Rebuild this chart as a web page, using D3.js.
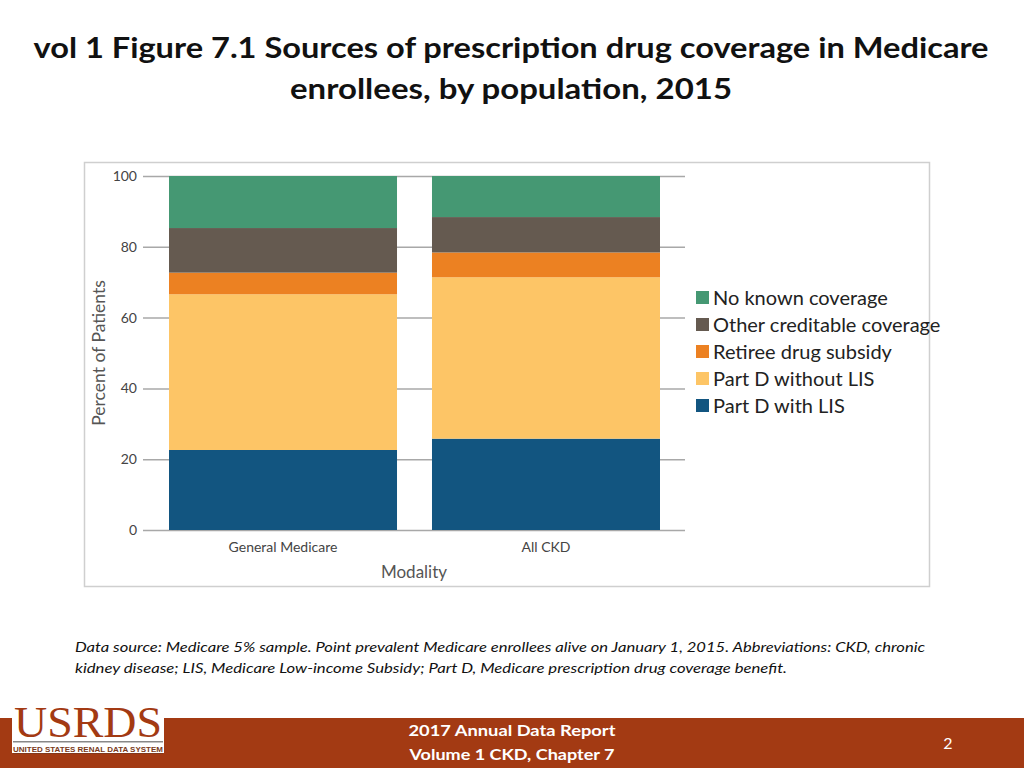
<!DOCTYPE html>
<html><head><meta charset="utf-8">
<script src="https://cdn.jsdelivr.net/npm/d3@7"></script>
<style>
body{margin:0;background:#fff;}
svg{display:block;}
</style></head>
<body>
<svg id="c" width="1024" height="768"></svg>
<script>
const categories = ["General Medicare", "All CKD"];
const seriesNames = ["Part D with LIS", "Part D without LIS", "Retiree drug subsidy", "Other creditable coverage", "No known coverage"];
const partDWithLIS = [22.6, 25.8];
const partDWithoutLIS = [44.0, 45.6];
const retireeDrugSubsidy = [6.1, 7.0];
const otherCreditable = [12.6, 10.0];
const noKnownCoverage = [14.7, 11.6];
const yTicks = [0, 20, 40, 60, 80, 100];
const colors = ["#125580", "#FDC566", "#EC8122", "#655A50", "#459873"];

const seriesValues = [partDWithLIS, partDWithoutLIS, retireeDrugSubsidy, otherCreditable, noKnownCoverage];
const rows = categories.map((c, i) => {
  const r = {cat: c};
  seriesNames.forEach((s, j) => r[s] = seriesValues[j][i]);
  return r;
});
const stacked = d3.stack().keys(seriesNames)(rows);

const svg = d3.select("#c");
const font = "Lato, 'Open Sans', sans-serif";

// Title
const title = svg.append("g").attr("font-family", "Lato, 'Noto Sans', sans-serif").attr("font-weight", "bold").attr("fill", "#111").attr("text-anchor", "middle");
title.append("text").attr("x", 511).attr("y", 58).attr("font-size", 28).attr("textLength", 955).attr("lengthAdjust", "spacingAndGlyphs").text("vol 1 Figure 7.1 Sources of prescription drug coverage in Medicare");
title.append("text").attr("x", 511).attr("y", 99).attr("font-size", 28).attr("textLength", 442).attr("lengthAdjust", "spacingAndGlyphs").text("enrollees, by population, 2015");

// Chart frame
svg.append("rect").attr("x", 84.5).attr("y", 162.5).attr("width", 845).attr("height", 424).attr("fill", "#fff").attr("stroke", "#cfcfcf").attr("stroke-width", 1.5);

const y = d3.scaleLinear().domain([0, 100]).range([530, 176]);
const x = d3.scaleBand().domain(categories).range([169, 660]).paddingInner(0.133).paddingOuter(0);

// grid
const yAxis = d3.axisLeft(y).tickValues(yTicks).tickSize(-542).tickPadding(6);
const ga = svg.append("g").attr("transform", "translate(143,0)").call(yAxis);
ga.select(".domain").remove();
ga.selectAll(".tick line").attr("stroke", "#a8a8a8").attr("stroke-width", 1.5);
ga.selectAll(".tick text").attr("font-family", font).attr("font-size", 14).attr("fill", "#444").attr("x", -6);

// bars
svg.append("g").selectAll("g").data(stacked).join("g")
  .attr("fill", (d, i) => colors[i])
  .selectAll("rect").data(d => d).join("rect")
  .attr("x", d => x(d.data.cat))
  .attr("width", x.bandwidth())
  .attr("y", d => y(d[1]))
  .attr("height", d => y(d[0]) - y(d[1]));

// x labels
const xAxis = d3.axisBottom(x).tickSize(0).tickPadding(12);
const gx = svg.append("g").attr("transform", "translate(0,530)").call(xAxis);
gx.select(".domain").remove();
gx.selectAll("text").attr("font-family", font).attr("font-size", 14).attr("fill", "#444");

// axis titles
svg.append("text").attr("transform", "translate(105,353) rotate(-90)").attr("text-anchor", "middle")
  .attr("font-family", font).attr("font-size", 17.5).attr("fill", "#555").text("Percent of Patients");
svg.append("text").attr("x", 414).attr("y", 578).attr("text-anchor", "middle")
  .attr("font-family", font).attr("font-size", 17).attr("fill", "#555").text("Modality");

// legend
const legendOrder = seriesNames.slice().reverse();
const lg = svg.append("g").attr("font-family", "Lato, 'Open Sans', sans-serif");
legendOrder.forEach((s, i) => {
  const idx = seriesNames.indexOf(s);
  const yy = 298 + i * 27;
  lg.append("rect").attr("x", 696).attr("y", yy - 7).attr("width", 13).attr("height", 13).attr("fill", colors[idx]);
  lg.append("text").attr("x", 713).attr("y", yy + 7).attr("font-size", 20).attr("fill", "#222").text(s);
});

// footnote
const fn = svg.append("g").attr("font-family", "Lato, 'Noto Sans', sans-serif").attr("font-style", "italic").attr("font-size", 14).attr("fill", "#111");
fn.append("text").attr("x", 75).attr("y", 652).attr("textLength", 850).attr("lengthAdjust", "spacingAndGlyphs").text("Data source: Medicare 5% sample. Point prevalent Medicare enrollees alive on January 1, 2015. Abbreviations: CKD, chronic");
fn.append("text").attr("x", 75).attr("y", 673).attr("textLength", 712).attr("lengthAdjust", "spacingAndGlyphs").text("kidney disease; LIS, Medicare Low-income Subsidy; Part D, Medicare prescription drug coverage benefit.");

// footer bar
svg.append("rect").attr("x", 0).attr("y", 718).attr("width", 1024).attr("height", 50).attr("fill", "#A33A13");
svg.append("rect").attr("x", 12).attr("y", 703).attr("width", 152).attr("height", 50).attr("fill", "#fff");
svg.append("text").attr("x", 88).attr("y", 737).attr("text-anchor", "middle").attr("font-family", "'Liberation Serif', 'DejaVu Serif', serif")
  .attr("font-size", 44).attr("fill", "#A33A13").attr("textLength", 148).attr("lengthAdjust", "spacingAndGlyphs").text("USRDS");
svg.append("rect").attr("x", 13).attr("y", 741).attr("width", 150).attr("height", 1.5).attr("fill", "#888");
svg.append("text").attr("x", 88).attr("y", 752).attr("text-anchor", "middle").attr("font-family", "'Liberation Sans', sans-serif").attr("font-weight", "bold")
  .attr("font-size", 8).attr("fill", "#7a3a20").attr("textLength", 150).attr("lengthAdjust", "spacingAndGlyphs").attr("text-decoration", "underline").text("UNITED STATES RENAL DATA SYSTEM");

const ft = svg.append("g").attr("font-family", "Lato, 'Noto Sans', sans-serif").attr("font-weight", "bold").attr("fill", "#fff").attr("text-anchor", "middle").attr("font-size", 16);
ft.append("text").attr("x", 512).attr("y", 736).attr("textLength", 207).attr("lengthAdjust", "spacingAndGlyphs").text("2017 Annual Data Report");
ft.append("text").attr("x", 512).attr("y", 760).attr("textLength", 205).attr("lengthAdjust", "spacingAndGlyphs").text("Volume 1 CKD, Chapter 7");
svg.append("text").attr("x", 948).attr("y", 749).attr("text-anchor", "middle").attr("font-family", "Lato, sans-serif").attr("font-size", 16).attr("fill", "#fff").text("2");
</script>
</body></html>
